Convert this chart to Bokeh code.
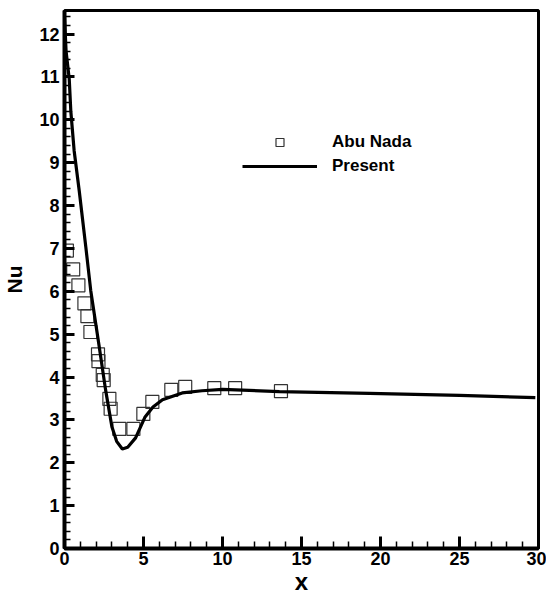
from bokeh.plotting import figure
from bokeh.layouts import gridplot
from bokeh.models import Range1d, SingleIntervalTicker, Legend, LegendItem
from bokeh.embed import file_html
from bokeh.resources import INLINE

# Abu Nada (reference data, squares)
abu_x = [0.15, 0.55, 0.88, 1.26, 1.45, 1.64, 2.12, 2.15, 2.42, 2.48, 2.84, 2.92,
         3.47, 4.36, 4.99, 5.56, 6.76, 7.64, 9.48, 10.8, 13.7]
abu_y = [6.95, 6.51, 6.14, 5.72, 5.42, 5.05, 4.53, 4.37, 4.05, 3.93, 3.49, 3.26,
         2.79, 2.79, 3.14, 3.42, 3.70, 3.77, 3.74, 3.74, 3.67]

# Present (solid line)
pres_x = [0.0, 0.1, 0.3, 0.4, 0.61, 0.93, 1.35, 1.66, 2.2, 2.6, 3.0, 3.3, 3.66,
          4.0, 4.5, 5.1, 5.6, 6.2, 7.45, 8.7, 10.0, 13.6, 19.3, 25.0, 29.8]
pres_y = [12.4, 11.6, 10.95, 10.2, 9.28, 8.35, 7.03, 6.02, 4.7, 3.7, 2.84, 2.5, 2.32,
          2.36, 2.58, 3.07, 3.3, 3.47, 3.63, 3.68, 3.71, 3.66, 3.62, 3.57, 3.52]

x_title = "x"
y_title = "Nu"
labels = ["Abu Nada", "Present"]

FONT = "Liberation Sans"

p = figure(width=546, height=597, output_backend="svg", toolbar_location=None,
           x_range=Range1d(0, 30), y_range=Range1d(0, 12.55),
           min_border_left=62, min_border_right=8, min_border_top=10,
           min_border_bottom=46)

p.xgrid.visible = False
p.ygrid.visible = False
p.outline_line_color = "black"
p.outline_line_width = 3
p.background_fill_color = "white"
p.border_fill_color = "white"

p.xaxis.ticker = SingleIntervalTicker(interval=5, num_minor_ticks=5)
p.yaxis.ticker = SingleIntervalTicker(interval=1, num_minor_ticks=5)

for ax in (p.xaxis[0], p.yaxis[0]):
    ax.axis_line_width = 4
    ax.axis_line_color = "black"
    ax.major_tick_out = 0
    ax.major_tick_line_width = 3
    ax.major_tick_line_color = "black"
    ax.minor_tick_out = 0
    ax.minor_tick_line_width = 1.5
    ax.minor_tick_line_color = "black"
    ax.major_label_text_font = FONT
    ax.major_label_text_font_style = "bold"
    ax.major_label_text_font_size = "18px"
    ax.major_label_text_color = "black"
    ax.axis_label_text_font = FONT
    ax.axis_label_text_font_style = "bold"
    ax.axis_label_text_color = "black"

p.xaxis.major_tick_in = 12
p.xaxis.minor_tick_in = 7
p.yaxis.major_tick_in = 10
p.yaxis.minor_tick_in = 6

p.xaxis.major_label_standoff = 3
p.yaxis.major_label_standoff = 5
p.xaxis.axis_label = x_title
p.yaxis.axis_label = y_title
p.xaxis.axis_label_text_font_size = "24px"
p.yaxis.axis_label_text_font_size = "21px"
p.xaxis.axis_label_standoff = 0
p.yaxis.axis_label_standoff = 10

r_sq = p.scatter(abu_x, abu_y, marker="square", size=13, fill_color=None,
                 line_color="#333333", line_width=1.2)
r_ln = p.line(pres_x, pres_y, line_color="black", line_width=3.2)

legend = Legend(items=[LegendItem(label=labels[0], renderers=[r_sq]),
                       LegendItem(label=labels[1], renderers=[r_ln])],
                location=(178, 372), orientation="vertical",
                glyph_width=75, glyph_height=20, spacing=4, padding=0, margin=0,
                label_standoff=15, border_line_color=None,
                background_fill_alpha=0,
                label_text_font=FONT, label_text_font_style="bold",
                label_text_font_size="17px", label_text_color="black")
p.add_layout(legend)

g = gridplot([[p]], toolbar_location=None)
open("out.html", "w").write(file_html(g, INLINE))
